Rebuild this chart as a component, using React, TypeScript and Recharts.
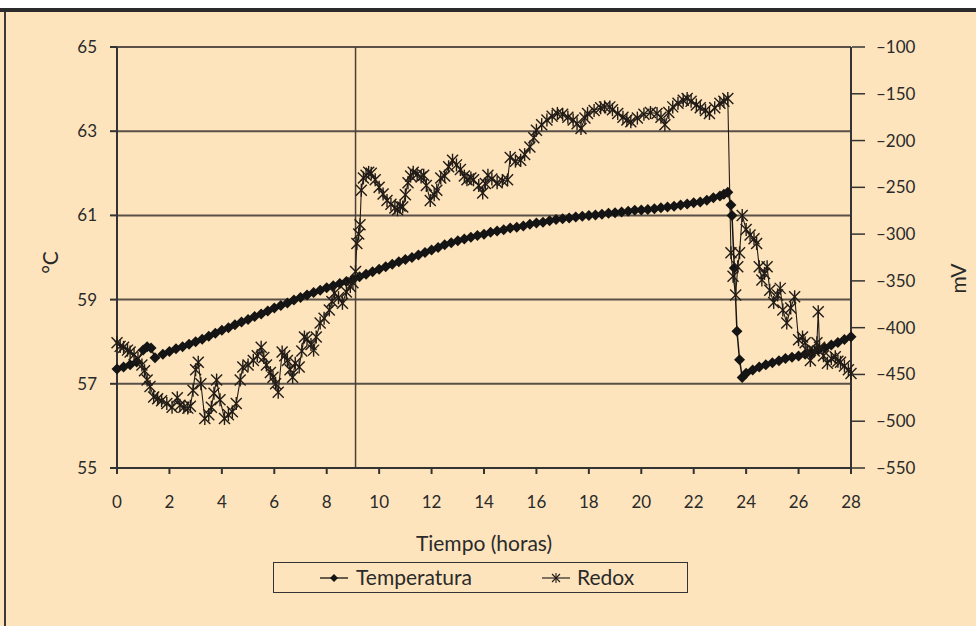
import { CartesianGrid, Line, LineChart, ReferenceLine, XAxis, YAxis } from "recharts";

// time (h) and temperature (°C)
const tempHours = [
  0, 0.25, 0.5, 0.75, 1.0, 1.15, 1.3, 1.45, 1.75, 2.0, 2.25, 2.5, 2.75, 3.0, 3.25, 3.5, 3.75, 4.0, 4.25, 4.5,
  4.75, 5.0, 5.25, 5.5, 5.75, 6.0, 6.25, 6.5, 6.75, 7.0, 7.25, 7.5, 7.75, 8.0, 8.25, 8.5, 8.75, 9.0, 9.25, 9.5,
  9.75, 10.0, 10.25, 10.5, 10.75, 11.0, 11.25, 11.5, 11.75, 12.0, 12.25, 12.5, 12.75, 13.0, 13.25, 13.5, 13.75,
  14.0, 14.25, 14.5, 14.75, 15.0, 15.25, 15.5, 15.75, 16.0, 16.25, 16.5, 16.75, 17.0, 17.25, 17.5, 17.75, 18.0,
  18.25, 18.5, 18.75, 19.0, 19.25, 19.5, 19.75, 20.0, 20.25, 20.5, 20.75, 21.0, 21.25, 21.5, 21.75, 22.0, 22.25,
  22.5, 22.75, 23.0, 23.15, 23.3, 23.42, 23.46, 23.55, 23.65, 23.75, 23.85, 24.0, 24.25, 24.5, 24.75, 25.0,
  25.25, 25.5, 25.75, 26.0, 26.25, 26.5, 26.75, 27.0, 27.25, 27.5, 27.75, 28.0
];
const tempValues = [
  57.35, 57.4, 57.45, 57.52, 57.8, 57.88, 57.85, 57.62, 57.7, 57.77, 57.83, 57.88, 57.94, 58.0, 58.06, 58.13,
  58.2, 58.27, 58.33, 58.4, 58.47, 58.53, 58.6, 58.66, 58.73, 58.8, 58.86, 58.92, 58.99, 59.05, 59.11, 59.17,
  59.22, 59.28, 59.33, 59.38, 59.43, 59.48, 59.54, 59.6, 59.66, 59.72, 59.78, 59.84, 59.9, 59.95, 60.0, 60.06,
  60.12, 60.18, 60.24, 60.3, 60.35, 60.4, 60.44, 60.48, 60.52, 60.55, 60.6, 60.63, 60.66, 60.7, 60.72, 60.75,
  60.79, 60.82, 60.84, 60.87, 60.9, 60.92, 60.94, 60.96, 60.98, 61.0, 61.01, 61.03, 61.05, 61.06, 61.08, 61.1,
  61.12, 61.13, 61.14, 61.16, 61.18, 61.2, 61.22, 61.25, 61.27, 61.3, 61.32, 61.36, 61.42, 61.46, 61.5, 61.55,
  61.25, 61.0, 59.75, 58.25, 57.57, 57.15, 57.25, 57.33, 57.4, 57.45, 57.5, 57.55, 57.6, 57.63, 57.66, 57.7,
  57.73, 57.8, 57.85, 57.92, 57.98, 58.05, 58.12
];

// time (h) and redox potential (mV)
const redoxHours = [
  0, 0.12, 0.25, 0.4, 0.5, 0.65, 0.8, 0.95, 1.05, 1.15, 1.26, 1.4, 1.55, 1.7, 1.9, 2.1, 2.3, 2.4, 2.55, 2.7, 2.8,
  2.9, 3.0, 3.1, 3.2, 3.35, 3.5, 3.6, 3.7, 3.8, 3.93, 4.1, 4.25, 4.4, 4.55, 4.7, 4.8, 5.0, 5.2, 5.35, 5.5, 5.6,
  5.7, 5.85, 5.95, 6.05, 6.15, 6.3, 6.4, 6.5, 6.6, 6.7, 6.8, 6.95, 7.05, 7.15, 7.25, 7.4, 7.5, 7.6, 7.75, 7.9,
  8.1, 8.2, 8.3, 8.45, 8.6, 8.75, 8.9, 9.0, 9.1, 9.15, 9.22, 9.27, 9.32, 9.4, 9.5, 9.6, 9.7, 9.85, 10.0, 10.15,
  10.3, 10.45, 10.6, 10.7, 10.8, 10.9, 11.0, 11.1, 11.2, 11.3, 11.45, 11.6, 11.7, 11.8, 11.95, 12.1, 12.2, 12.35,
  12.5, 12.65, 12.8, 12.95, 13.1, 13.25, 13.35, 13.5, 13.6, 13.8, 13.95, 14.05, 14.15, 14.3, 14.5, 14.7, 14.9,
  15.0, 15.2, 15.4, 15.55, 15.75, 15.9, 16.0, 16.2, 16.4, 16.6, 16.8, 17.0, 17.2, 17.4, 17.55, 17.7, 17.85,
  17.95, 18.2, 18.45, 18.6, 18.8, 18.9, 19.1, 19.3, 19.45, 19.6, 19.85, 20.1, 20.35, 20.6, 20.75, 20.9, 21.05,
  21.2, 21.4, 21.6, 21.75, 21.9, 22.1, 22.25, 22.45, 22.6, 22.8, 23.0, 23.15, 23.3, 23.42, 23.5, 23.6, 23.68,
  23.75, 23.85, 24.0, 24.15, 24.3, 24.4, 24.5, 24.6, 24.7, 24.8, 24.9, 25.05, 25.2, 25.3, 25.4, 25.55, 25.7,
  25.85, 26.0, 26.15, 26.25, 26.35, 26.45, 26.6, 26.7, 26.75, 26.8, 26.95, 27.1, 27.25, 27.4, 27.5, 27.6, 27.75,
  27.9, 28.0
];
const redoxValues = [
  -416, -420, -421, -424, -426, -429, -433, -440, -446, -456, -463, -474, -476, -478, -481, -485, -475, -483,
  -485, -486, -484, -467, -445, -437, -460, -497, -493, -485, -470, -456, -477, -497, -493, -490, -481, -456,
  -442, -440, -435, -430, -421, -432, -440, -448, -453, -460, -469, -426, -430, -435, -445, -453, -438, -442,
  -425, -410, -412, -418, -424, -410, -395, -390, -381, -372, -363, -368, -374, -362, -356, -352, -340, -310,
  -300, -290, -253, -240, -237, -234, -235, -242, -250, -257, -264, -268, -272, -274, -270, -271, -258, -245,
  -238, -234, -236, -239, -237, -248, -264, -258, -253, -240, -238, -228, -221, -226, -231, -238, -242, -240,
  -242, -248, -256, -246, -237, -241, -245, -243, -242, -218, -222, -221, -215, -207, -197, -189, -183, -178,
  -174, -171, -172, -175, -178, -182, -187, -176, -171, -168, -165, -164, -164, -167, -171, -175, -178, -180,
  -176, -172, -170, -171, -175, -183, -170, -164, -160, -157, -155, -158, -162, -165, -168, -171, -165, -160,
  -158, -155, -320, -345, -365, -335, -320, -280, -295, -301, -305, -310, -335, -349, -342, -335, -360, -373,
  -365, -358, -381, -395, -379, -367, -413, -410, -416, -425, -435, -425, -416, -383, -421, -430, -438, -433,
  -431, -436, -437, -441, -445, -449
];

const hourTicks = [0, 2, 4, 6, 8, 10, 12, 14, 16, 18, 20, 22, 24, 26, 28];
const tempTicks = [55, 57, 59, 61, 63, 65];
const redoxTicks = [-550, -500, -450, -400, -350, -300, -250, -200, -150, -100];
const markerHour = 9.1;

const tempData = tempHours.map((h, i) => ({ h, temp: tempValues[i] }));
const redoxData = redoxHours.map((h, i) => ({ h, redox: redoxValues[i] }));

const FONT = "Lato, 'Open Sans', sans-serif";
const INK = "#141414";

function Diamond({ cx, cy, r = 5.5 }: { cx: number; cy: number; r?: number }) {
  return <polygon points={`${cx},${cy - r} ${cx + r},${cy} ${cx},${cy + r} ${cx - r},${cy}`} fill={INK} />;
}

function Star({ cx, cy, r = 5.5, w = 1.4 }: { cx: number; cy: number; r?: number; w?: number }) {
  return (
    <g stroke="#221c18" strokeWidth={w}>
      <line x1={cx - r} y1={cy - r} x2={cx + r} y2={cy + r} />
      <line x1={cx - r} y1={cy + r} x2={cx + r} y2={cy - r} />
      <line x1={cx} y1={cy - r - 1} x2={cx} y2={cy + r + 1} />
    </g>
  );
}

function RightTick(props: any) {
  const { x, y, payload } = props;
  return (
    <g>
      <line x1={x - 7} y1={y} x2={x + 6} y2={y} stroke="#333" strokeWidth={1.5} />
      <text x={x + 17} y={y} dy="0.35em" fill="#2a2a2a" fontSize={17} fontFamily={FONT}>
        {`–${Math.abs(payload.value)}`}
      </text>
    </g>
  );
}

export default function App() {
  return (
    <div style={{ position: "absolute", left: 0, top: 0, width: 976, height: 626, background: "#fff", overflow: "hidden" }}>
      <div style={{ position: "absolute", left: 0, top: 12, width: 976, height: 614, background: "#FDE4BC" }} />
      <div style={{ position: "absolute", left: 0, top: 8, width: 976, height: 4, background: "#2b2b2b" }} />
      <div style={{ position: "absolute", left: 4, top: 12, width: 2, height: 614, background: "#3a3a3a" }} />

      <div style={{ position: "absolute", left: 0, top: 0 }}>
        <LineChart width={976} height={626} margin={{ top: 47, right: 0, bottom: 118, left: 0 }}>
          <CartesianGrid yAxisId="t" vertical={false} stroke="#5a5048" strokeWidth={2} />
          <XAxis
            dataKey="h"
            type="number"
            domain={[0, 28]}
            ticks={hourTicks}
            height={40}
            stroke="#333"
            strokeWidth={2}
            tickSize={6}
            tickMargin={22}
            tick={{ fill: "#2a2a2a", fontSize: 17, fontFamily: FONT }}
            allowDuplicatedCategory={false}
          />
          <YAxis
            yAxisId="t"
            domain={[55, 65]}
            ticks={tempTicks}
            width={117}
            stroke="#333"
            strokeWidth={2}
            tickSize={7}
            tickMargin={13}
            tick={{ fill: "#2a2a2a", fontSize: 17, fontFamily: FONT }}
          />
          <YAxis
            yAxisId="r"
            orientation="right"
            domain={[-550, -100]}
            ticks={redoxTicks}
            width={125}
            stroke="#333"
            strokeWidth={2}
            tickLine={false}
            tick={<RightTick />}
          />
          <ReferenceLine yAxisId="t" x={markerHour} stroke="#4a4038" strokeWidth={1.5} />
          <Line
            yAxisId="t"
            data={tempData}
            dataKey="temp"
            stroke={INK}
            strokeWidth={1.5}
            isAnimationActive={false}
            dot={(p: any) => <Diamond key={`t-${p.index}`} cx={p.cx} cy={p.cy} />}
          />
          <Line
            yAxisId="r"
            data={redoxData}
            dataKey="redox"
            stroke="#221c18"
            strokeWidth={1.1}
            isAnimationActive={false}
            dot={(p: any) => <Star key={`r-${p.index}`} cx={p.cx} cy={p.cy} />}
          />
        </LineChart>
      </div>

      <div style={{ position: "absolute", left: 38, top: 250, fontFamily: FONT, fontSize: 21, color: "#2a2a2a", transform: "rotate(-90deg)", transformOrigin: "center" }}>
        °C
      </div>
      <div style={{ position: "absolute", left: 942, top: 266, fontFamily: FONT, fontSize: 21, color: "#2a2a2a", transform: "rotate(-90deg)", transformOrigin: "center" }}>
        mV
      </div>
      <div style={{ position: "absolute", left: 284, width: 400, top: 530, textAlign: "center", fontFamily: FONT, fontSize: 21, color: "#2a2a2a" }}>
        Tiempo (horas)
      </div>

      <div
        style={{
          position: "absolute",
          left: 273,
          top: 562,
          width: 413,
          height: 29,
          border: "1.5px solid #333",
          fontFamily: FONT,
          fontSize: 21,
          color: "#2a2a2a"
        }}
      >
        <svg style={{ position: "absolute", left: 46, top: 7 }} width={28} height={16}>
          <line x1={0} y1={8} x2={28} y2={8} stroke={INK} strokeWidth={1.3} />
          <Diamond cx={14} cy={8} r={4} />
        </svg>
        <span style={{ position: "absolute", left: 82, top: 1 }}>Temperatura</span>
        <svg style={{ position: "absolute", left: 268, top: 7 }} width={28} height={16}>
          <line x1={0} y1={8} x2={28} y2={8} stroke={INK} strokeWidth={1.1} />
          <Star cx={14} cy={8} r={4} w={1.1} />
        </svg>
        <span style={{ position: "absolute", left: 303, top: 1 }}>Redox</span>
      </div>
    </div>
  );
}
